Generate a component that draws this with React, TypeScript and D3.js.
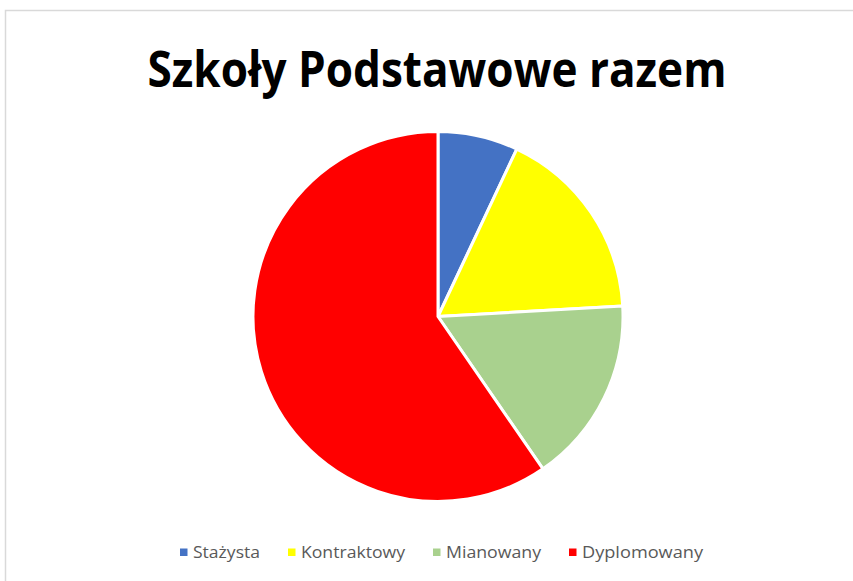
import React, { useEffect, useRef } from 'react';
import * as d3 from 'd3';

const categories = ['Stażysta', 'Kontraktowy', 'Mianowany', 'Dyplomowany'];
const values = [7.0, 17.1, 16.3, 59.6];
const colors = ['#4472c4', '#ffff00', '#a9d18e', '#ff0000'];
const title = 'Szkoły Podstawowe razem';

const W = 853;
const H = 581;

export default function App() {
  const svgRef = useRef<SVGSVGElement>(null);

  useEffect(() => {
    if (!svgRef.current) return;
    const svg = d3.select(svgRef.current);
    svg.selectAll('*').remove();

    // chart area border
    svg.append('rect')
      .attr('x', 5.5)
      .attr('y', 10.5)
      .attr('width', W + 20)
      .attr('height', H + 20)
      .attr('fill', '#fff')
      .attr('stroke', '#d9d9d9')
      .attr('stroke-width', 1.5);

    svg.append('text')
      .attr('x', 437)
      .attr('y', 87)
      .attr('text-anchor', 'middle')
      .attr('font-family', '"Open Sans", "Noto Sans", sans-serif')
      .attr('font-weight', 700)
      .attr('font-size', 50)
      .attr('textLength', 579)
      .attr('lengthAdjust', 'spacingAndGlyphs')
      .attr('fill', '#000')
      .text(title);

    // pie
    const cx = 438;
    const cy = 316.5;
    const r = 185;
    const pie = d3.pie<number>().sort(null).value(d => d);
    const arc = d3.arc<d3.PieArcDatum<number>>().innerRadius(0).outerRadius(r);

    svg.append('g')
      .attr('transform', `translate(${cx},${cy})`)
      .selectAll('path')
      .data(pie(values))
      .enter().append('path')
      .attr('d', arc)
      .attr('fill', (d, i) => colors[i])
      .attr('stroke', '#fff')
      .attr('stroke-width', 3)
      .attr('stroke-linejoin', 'round');

    // legend
    const textWidths = [67, 104, 95, 121];
    const gap = 28;
    const sq = 7.5;
    const pad = 5.5;
    const total = d3.sum(textWidths) + textWidths.length * (sq + pad) + gap * (textWidths.length - 1);
    let x = 441.5 - total / 2;
    const ly = 558;
    const lg = svg.append('g');
    categories.forEach((c, i) => {
      lg.append('rect')
        .attr('x', x)
        .attr('y', ly - 9.5)
        .attr('width', sq)
        .attr('height', sq)
        .attr('fill', colors[i]);
      lg.append('text')
        .attr('x', x + sq + pad)
        .attr('y', ly)
        .attr('font-family', '"Open Sans", "Noto Sans", sans-serif')
        .attr('font-size', 16)
        .attr('textLength', textWidths[i])
        .attr('lengthAdjust', 'spacingAndGlyphs')
        .attr('fill', '#595959')
        .text(c);
      x += sq + pad + textWidths[i] + gap;
    });
  }, []);

  return (
    <svg
      ref={svgRef}
      width={W}
      height={H}
      style={{ position: 'absolute', left: 0, top: 0, background: '#fff' }}
    />
  );
}
